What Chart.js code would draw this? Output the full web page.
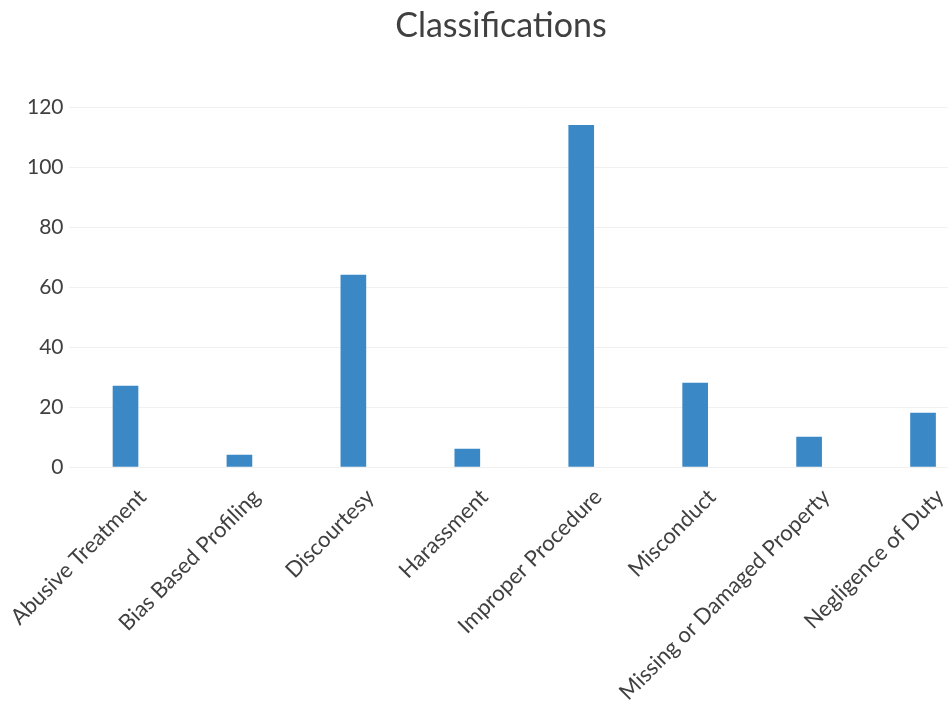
<!DOCTYPE html>
<html>
<head>
<meta charset="utf-8">
<script src="https://cdn.jsdelivr.net/npm/chart.js@4"></script>
<style>
    html, body { margin: 0; padding: 0; background: #ffffff; overflow: hidden; }
    #wrap { width: 1004px; height: 706px; }
</style>
</head>
<body>
<div id="wrap"><canvas id="classChart" width="1004" height="706"></canvas></div>
<script>
const categories = ['Abusive Treatment', 'Bias Based Profiling', 'Discourtesy', 'Harassment',
    'Improper Procedure', 'Misconduct', 'Missing or Damaged Property', 'Negligence of Duty'];
const counts = [27, 4, 64, 6, 114, 28, 10, 18];
const yTicks = [0, 20, 40, 60, 80, 100, 120];

document.addEventListener('DOMContentLoaded', function() {
    const ctx = document.getElementById('classChart').getContext('2d');
    const textColor = '#404040';
    const font = "Lato, 'Open Sans', sans-serif";

    new Chart(ctx, {
        type: 'bar',
        data: {
            labels: categories,
            datasets: [{
                label: 'Classifications',
                data: counts,
                backgroundColor: '#3a88c6',
                borderWidth: 0,
                barThickness: 25
            }]
        },
        options: {
            responsive: false,
            animation: false,
            layout: {
                padding: { left: 22, right: 24, top: 0, bottom: 0 }
            },
            plugins: {
                legend: { display: false },
                tooltip: { enabled: false },
                title: {
                    display: true,
                    text: 'Classifications',
                    color: textColor,
                    font: { family: font, size: 34, weight: 'normal' },
                    padding: { top: 6, bottom: 60.5 }
                }
            },
            scales: {
                x: {
                    grid: { display: false },
                    border: { display: false },
                    // keep the plot area where the original one sits
                    afterFit: function(axis) {
                        axis.height = 239;
                        axis.paddingLeft = 0;
                        axis.paddingRight = 0;
                    },
                    ticks: {
                        color: textColor,
                        font: { family: font, size: 22 },
                        maxRotation: 45,
                        minRotation: 45,
                        autoSkip: false,
                        labelOffset: 17,
                        padding: 9
                    }
                },
                y: {
                    min: 0,
                    max: 120,
                    afterBuildTicks: function(axis) {
                        axis.ticks = yTicks.map(function(v) { return { value: v }; });
                    },
                    grid: { color: '#f0f0f0', drawTicks: false },
                    border: { display: false },
                    ticks: {
                        color: textColor,
                        font: { family: font, size: 21 },
                        padding: 5
                    }
                }
            }
        }
    });
});
</script>
</body>
</html>
